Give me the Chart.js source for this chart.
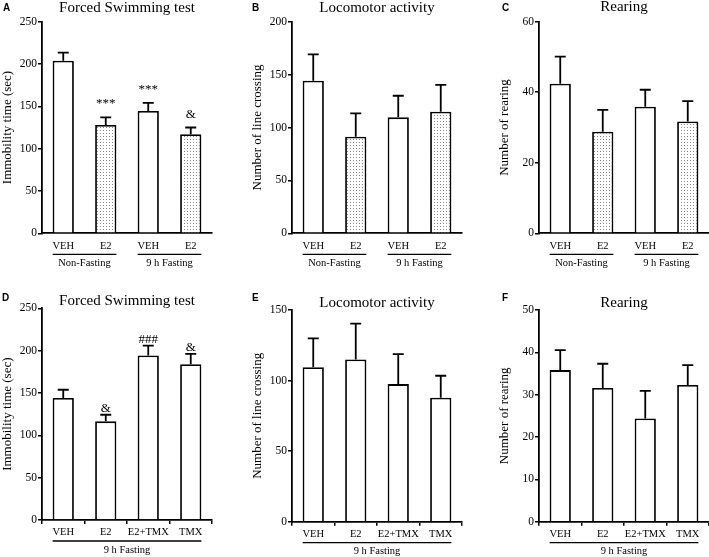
<!DOCTYPE html>
<html><head><meta charset="utf-8">
<script src="https://cdn.jsdelivr.net/npm/chart.js@4.4.0/dist/chart.umd.min.js"></script>
<style>
html,body{margin:0;padding:0;background:#fff;}
body{width:709px;height:557px;position:relative;overflow:hidden;}
canvas{position:absolute;}
</style></head><body>
<script>
// ---------- data ----------
const catsTop = ['VEH', 'E2', 'VEH', 'E2'];
const catsBottom = ['VEH', 'E2', 'E2+TMX', 'TMX'];
const groupsTop = ['Non-Fasting', '9 h Fasting'];
const groupsBottom = ['9 h Fasting'];

const fstTopMean = [204, 128, 144.5, 117];
const fstTopSem = [9.5, 9, 9.5, 8];
const fstTopMarks = ['', '***', '***', '&'];

const locoTopMean = [144.2, 91.3, 109.6, 115];
const locoTopSem = [25, 22, 20.4, 25.2];

const rearTopMean = [42.4, 28.8, 35.9, 31.7];
const rearTopSem = [7.7, 6.2, 4.8, 5.8];

const fstBotMean = [144, 116.5, 194.2, 184];
const fstBotSem = [9.8, 7.8, 11.8, 12.2];
const fstBotMarks = ['', '&', '###', '&'];

const locoBotMean = [109.4, 115, 97.5, 87.8];
const locoBotSem = [20.5, 25.3, 21.3, 15.6];

const rearBotMean = [35.8, 31.6, 24.4, 32.3];
const rearBotSem = [4.7, 5.7, 6.5, 4.7];

const fstTicks = {max: 250, step: 50};
const locoTopTicks = {max: 200, step: 50};
const rearTopTicks = {max: 60, step: 20};
const locoBotTicks = {max: 150, step: 50};
const rearBotTicks = {max: 50, step: 10};

// ---------- styles ----------
const SERIF = '"Liberation Serif", "Times New Roman", serif';
const SANS = '"Liberation Sans", Arial, sans-serif';

function dotPattern() {
  const c = document.createElement('canvas');
  c.width = 3; c.height = 3;
  const g = c.getContext('2d');
  g.fillStyle = '#fff'; g.fillRect(0, 0, 3, 3);
  g.fillStyle = '#8a8a8a'; g.fillRect(1, 1, 1, 1);
  return g.createPattern(c, 'repeat');
}
const DOTS = dotPattern();
const topFills = ['#fff', DOTS, '#fff', DOTS];
const botFills = ['#fff', '#fff', '#fff', '#fff'];

const panels = [
  {letter:'A', letterX:3, left:0, top:0, w:230, h:280, padTop:21.7, xH:46.7, titleY:11.5, letterY:10.5,
   title:'Forced Swimming test', yTitle:'Immobility time (sec)', labels:catsTop, mean:fstTopMean, sem:fstTopSem,
   marks:fstTopMarks, markGap:10, ticks:fstTicks, fills:topFills, groups:[[groupsTop[0],0,1],[groupsTop[1],2,3]], xTicks:false},
  {letter:'B', letterX:2, left:250, top:0, w:230, h:280, padTop:21.7, xH:46.7, titleY:11.5, letterY:10.5,
   title:'Locomotor activity', yTitle:'Number of line crossing', labels:catsTop, mean:locoTopMean, sem:locoTopSem,
   marks:null, markGap:10, ticks:locoTopTicks, fills:topFills, groups:[[groupsTop[0],0,1],[groupsTop[1],2,3]], xTicks:false},
  {letter:'C', letterX:5, left:497, top:0, w:212, h:280, padTop:21.7, xH:46.7, titleY:11, letterY:10.5,
   title:'Rearing', yTitle:'Number of rearing', labels:catsTop, mean:rearTopMean, sem:rearTopSem,
   marks:null, markGap:10, ticks:rearTopTicks, fills:topFills, groups:[[groupsTop[0],0,1],[groupsTop[1],2,3]], xTicks:false},
  {letter:'D', letterX:2, left:0, top:280, w:230, h:277, padTop:28.3, xH:37, titleY:25, letterY:21,
   title:'Forced Swimming test', yTitle:'Immobility time (sec)', labels:catsBottom, mean:fstBotMean, sem:fstBotSem,
   marks:fstBotMarks, markGap:3, ticks:fstTicks, fills:botFills, groups:[[groupsBottom[0],0,3]], xTicks:true},
  {letter:'E', letterX:2, left:250, top:280, w:230, h:277, padTop:30, xH:35.3, titleY:26.5, letterY:21,
   title:'Locomotor activity', yTitle:'Number of line crossing', labels:catsBottom, mean:locoBotMean, sem:locoBotSem,
   marks:null, markGap:3, ticks:locoBotTicks, fills:botFills, groups:[[groupsBottom[0],0,3]], xTicks:true},
  {letter:'F', letterX:5, left:497, top:280, w:212, h:277, padTop:30, xH:35.3, titleY:26.5, letterY:21,
   title:'Rearing', yTitle:'Number of rearing', labels:catsBottom, mean:rearBotMean, sem:rearBotSem,
   marks:null, markGap:3, ticks:rearBotTicks, fills:botFills, groups:[[groupsBottom[0],0,3]], xTicks:true}
];

const panelPlugin = {
  id: 'panelDecor',
  afterDatasetsDraw(chart) {
    const p = chart.options.plugins.panelDecor;
    const ctx = chart.ctx;
    const meta = chart.getDatasetMeta(0);
    const ys = chart.scales.y;
    ctx.save();
    ctx.strokeStyle = '#000';
    ctx.lineWidth = 1.8;
    ctx.lineCap = 'butt';
    meta.data.forEach((bar, i) => {
      const yTop = ys.getPixelForValue(p.mean[i] + p.sem[i]);
      ctx.beginPath();
      ctx.moveTo(bar.x, bar.y);
      ctx.lineTo(bar.x, yTop);
      ctx.moveTo(bar.x - 5.5, yTop);
      ctx.lineTo(bar.x + 5.5, yTop);
      ctx.stroke();
      if (p.marks && p.marks[i]) {
        ctx.fillStyle = '#000';
        ctx.font = '13px ' + SERIF;
        ctx.textAlign = 'center';
        ctx.textBaseline = 'alphabetic';
        ctx.fillText(p.marks[i], bar.x, yTop - p.markGap);
      }
    });
    ctx.restore();
  },
  afterDraw(chart) {
    const p = chart.options.plugins.panelDecor;
    const ctx = chart.ctx;
    const meta = chart.getDatasetMeta(0);
    const ca = chart.chartArea;
    ctx.save();
    ctx.fillStyle = '#000';
    ctx.font = '15px ' + SERIF;
    ctx.textAlign = 'center';
    ctx.textBaseline = 'alphabetic';
    ctx.fillText(p.title, (ca.left + ca.right) / 2, p.titleY);
    ctx.font = 'bold 10px ' + SANS;
    ctx.textAlign = 'left';
    ctx.fillText(p.letter, p.letterX, p.letterY);
    ctx.strokeStyle = '#000';
    ctx.lineWidth = 1.3;
    ctx.font = '10.5px ' + SERIF;
    ctx.textAlign = 'center';
    ctx.textBaseline = 'middle';
    p.groups.forEach(g => {
      const b0 = meta.data[g[1]], b1 = meta.data[g[2]];
      const x0 = b0.x - b0.width / 2, x1 = b1.x + b1.width / 2;
      const ly = ca.bottom + 21;
      ctx.beginPath();
      ctx.moveTo(x0, ly); ctx.lineTo(x1, ly);
      ctx.stroke();
      ctx.fillText(g[0], (x0 + x1) / 2, ca.bottom + 30);
    });
    ctx.restore();
  }
};

panels.forEach(p => {
  const cv = document.createElement('canvas');
  cv.width = p.w; cv.height = p.h;
  cv.style.left = p.left + 'px'; cv.style.top = p.top + 'px';
  cv.style.width = p.w + 'px'; cv.style.height = p.h + 'px';
  document.body.appendChild(cv);
  new Chart(cv, {
    type: 'bar',
    data: {
      labels: p.labels,
      datasets: [{
        data: p.mean,
        backgroundColor: p.fills,
        borderColor: '#000',
        borderWidth: 1.8,
        borderSkipped: 'start',
        barPercentage: 0.5,
        categoryPercentage: 1
      }]
    },
    options: {
      responsive: false,
      animation: false,
      devicePixelRatio: 1,
      layout: {padding: {top: p.padTop, right: p.w - 212, bottom: 0, left: 0}},
      plugins: {
        legend: {display: false},
        tooltip: {enabled: false},
        title: {display: false},
        panelDecor: p
      },
      scales: {
        x: {
          grid: {display: true, drawOnChartArea: false, drawTicks: p.xTicks, tickLength: 4, color: '#000', lineWidth: 1.5},
          border: {display: true, color: '#000', width: 1.8},
          ticks: {font: {family: SERIF, size: 10.5}, color: '#000', padding: p.xTicks ? 2 : 7, maxRotation: 0, autoSkip: false},
          afterFit: s => { s.height = p.xH; }
        },
        y: {
          min: 0, max: p.ticks.max,
          ticks: {stepSize: p.ticks.step, font: {family: SERIF, size: 11.5}, color: '#000', padding: 1},
          grid: {display: true, drawOnChartArea: false, drawTicks: true, tickLength: 4, color: '#000', lineWidth: 1.5},
          border: {display: true, color: '#000', width: 1.8},
          title: {display: true, text: p.yTitle, font: {family: SERIF, size: 13}, color: '#000', padding: {top: 0, bottom: 0}},
          afterFit: s => { s.width = 42; }
        }
      }
    },
    plugins: [panelPlugin]
  });
});
</script>
</body></html>
